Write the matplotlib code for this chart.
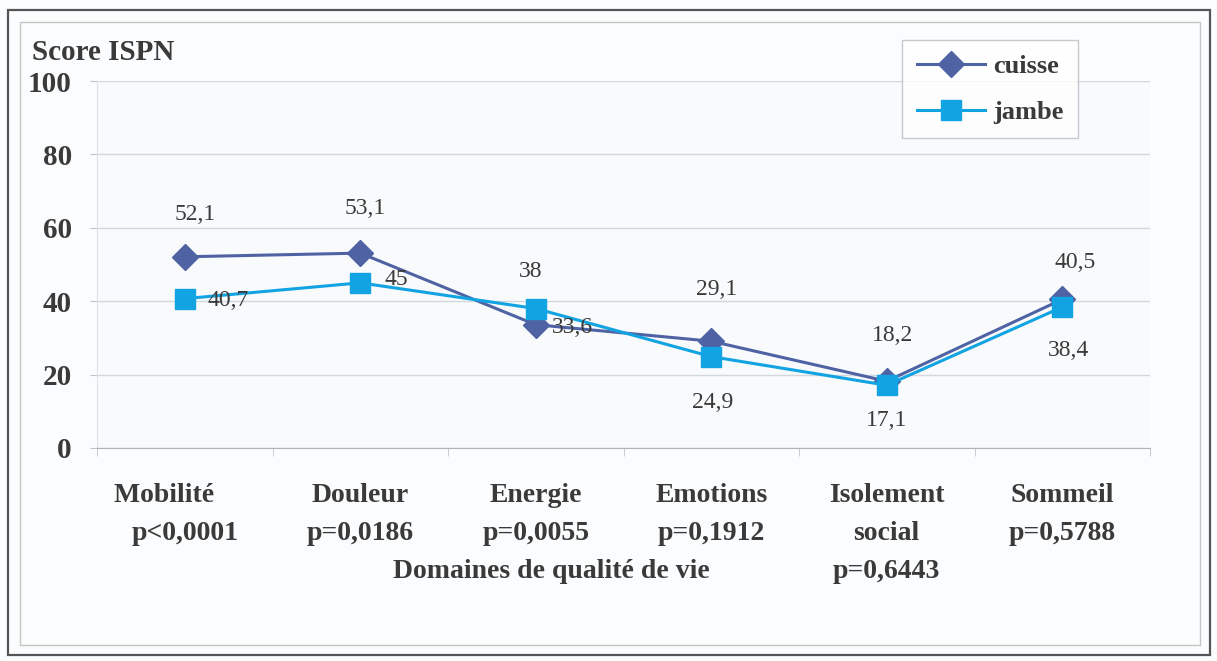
import matplotlib
matplotlib.use("Agg")
import matplotlib.pyplot as plt
from matplotlib.patches import Rectangle

categories = ["Mobilité      \np<0,0001", "Douleur\np=0,0186", "Energie\np=0,0055",
              "Emotions\np=0,1912", "Isolement\nsocial\np=0,6443", "Sommeil\np=0,5788"]
cuisse = [52.1, 53.1, 33.6, 29.1, 18.2, 40.5]
jambe = [40.7, 45.0, 38.0, 24.9, 17.1, 38.4]
cuisse_labels = ["52,1", "53,1", "33,6", "29,1", "18,2", "40,5"]
jambe_labels = ["40,7", "45", "38", "24,9", "17,1", "38,4"]
yticks = [0, 20, 40, 60, 80, 100]

# label placement (style): (ha, dx px, dy px)
cuisse_off = [("center", 10, 42), ("center", 5, 45), ("left", 16, -3),
              ("center", 5, 52), ("center", 6, 46), ("center", 13, 37)]
jambe_off = [("left", 23, -2), ("left", 24, 3), ("center", -5, 37),
             ("center", 1, -46), ("center", 0, -35), ("center", 6, -43)]

plt.rcParams['font.family'] = ['Liberation Serif', 'DejaVu Serif']
txt = "#3a3a3a"
c1 = "#4f63a4"
c2 = "#12a3e2"

fig = plt.figure(figsize=(12.17, 6.61), dpi=100, facecolor="#fbfcfd")
fig.patches.append(Rectangle((8/1217, 1-655/661), 1202/1217, 645/661, transform=fig.transFigure,
                             fill=False, edgecolor="#555555", lw=1.6))
fig.patches.append(Rectangle((20/1217, 1-645/661), 1180/1217, 623/661, transform=fig.transFigure,
                             fill=False, edgecolor="#c4c4c4", lw=1.0))

ax = fig.add_axes([97/1217, 1-448/661, (1150-97)/1217, (448-81)/661])
ax.set_facecolor("#f8fafc")
x = list(range(len(categories)))
ax.plot(x, cuisse, color=c1, lw=2.2, marker="D", ms=13, mec=c1, mfc=c1, label="cuisse", zorder=3)
ax.plot(x, jambe, color=c2, lw=2.2, marker="s", ms=15, mec=c2, mfc=c2, label="jambe", zorder=4)

ax.set_xlim(-0.5, len(categories) - 0.5)
ax.set_ylim(0, 100)
ax.set_yticks(yticks)
ax.set_yticklabels([str(v) for v in yticks], fontsize=21, fontweight="bold", color=txt)
ax.grid(axis="y", color="#d4d8dc", lw=1)
ax.set_axisbelow(True)
for s in ["top", "right"]:
    ax.spines[s].set_visible(False)
ax.spines["left"].set_color("#e0e3e6")
ax.spines["bottom"].set_color("#b0b4b8")
ax.tick_params(axis="y", length=5, color="#c0c4c8", pad=13)
ax.set_xticks([i + 0.5 for i in range(-1, len(categories))], minor=True)
ax.tick_params(axis="x", which="minor", length=6, color="#c0c4c8")
ax.set_xticks(x)
ax.set_xticklabels(categories, fontsize=20, fontweight="bold", color=txt, linespacing=1.7)
ax.tick_params(axis="x", which="major", length=0, pad=25)

def place(vals, labels, offs):
    for i, (v, l, (ha, dx, dy)) in enumerate(zip(vals, labels, offs)):
        ax.annotate(l, (i, v), xytext=(dx, dy), textcoords="offset pixels", ha=ha,
                    va="center", fontsize=17, color=txt, zorder=5)
place(cuisse, cuisse_labels, cuisse_off)
place(jambe, jambe_labels, jambe_off)

fig.text(32/1217, 1-52/661, "Score ISPN", fontsize=21, fontweight="bold", color=txt,
         ha="left", va="center")
fig.text(551/1217, 1-571/661, "Domaines de qualité de vie", fontsize=20, fontweight="bold",
         color=txt, ha="center", va="center")

leg = ax.legend(loc="upper left", bbox_to_anchor=(902/1217, 1-40/661), bbox_transform=fig.transFigure,
                fontsize=19, frameon=True, fancybox=False, handlelength=2.6, labelspacing=0.85,
                borderpad=0.55, handletextpad=0.3, borderaxespad=0)
leg.get_frame().set_edgecolor("#b8bcc0")
leg.get_frame().set_facecolor("white")
for t in leg.get_texts():
    t.set_fontweight("bold")
    t.set_color(txt)

fig.savefig("out.png", dpi=100, facecolor=fig.get_facecolor())
